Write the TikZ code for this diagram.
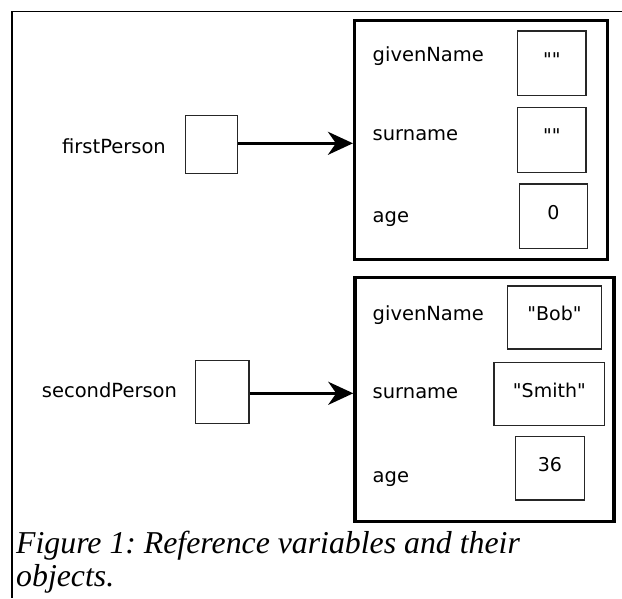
\documentclass[tikz,border=0pt]{standalone}
\usepackage{fontspec}
\setmainfont{DejaVu Sans}
\newfontfamily\captionfont{Liberation Serif}
\usetikzlibrary{arrows.meta}

% straight double quote, set as the font's own glyph
\newcommand\dq{\XeTeXglyph\XeTeXcharglyph"22\relax}

\tikzset{
  frameline/.style={line width=1.3pt, black},
  refbox/.style={draw=black!85, line width=1.3pt, inner sep=0pt, minimum width=#1},
  objbox/.style={draw=black, line width=3.5pt, inner sep=0pt},
  valbox/.style={draw=black!85, line width=1.3pt, inner sep=0pt,
                 text height=14pt, text depth=8pt, font=\fontsize{19}{22}\selectfont},
  varname/.style={anchor=base west, inner sep=0pt, font=\fontsize{19.5}{22}\selectfont},
  fieldname/.style={anchor=base west, inner sep=0pt, font=\fontsize{19.5}{22}\selectfont},
  ptr/.style={line width=3pt, -{Stealth[length=25pt, width=23pt, inset=8pt]}},
  captext/.style={anchor=base west, inner sep=0pt,
                  font=\captionfont\itshape\fontsize{31.8}{34}\selectfont\frenchspacing}
}

\begin{document}
\begin{tikzpicture}[x=1pt, y=-1pt]
  \useasboundingbox (0,0) rectangle (622,598);

  % frame edges
  \draw[frameline] (622,11.5) -- (12,11.5) -- (12,598);

  % ---- first object ----
  \node[objbox, minimum width=252.6pt, minimum height=238.6pt] (obj1) at (481,140) {};
  \node[fieldname] (o1given) at (372.5,61.7) {givenName};
  \node[fieldname] (o1sur)   at (372.5,140)  {surname};
  \node[fieldname] (o1age)   at (372.5,222.5) {age};
  \node[valbox, minimum width=68.3pt, minimum height=64.7pt] (v11) at (551.9,63.4) {\dq\dq};
  \node[valbox, minimum width=68.3pt, minimum height=65pt]   (v12) at (551.9,139.8) {\dq\dq};
  \node[valbox, minimum width=68.4pt, minimum height=64.7pt] (v13) at (553.5,216.4) {0};

  % ---- second object ----
  \node[objbox, minimum width=259pt, minimum height=244.4pt] (obj2) at (484.5,399.5) {};
  \node[fieldname] (o2given) at (372.5,320)   {givenName};
  \node[fieldname] (o2sur)   at (372.5,398.3) {surname};
  \node[fieldname] (o2age)   at (372.5,482.7) {age};
  \node[valbox, minimum width=94.4pt,  minimum height=63pt]   (v21) at (554.5,317.5) {\dq Bob\dq};
  \node[valbox, minimum width=110.7pt, minimum height=63.4pt] (v22) at (549.4,394)   {\dq Smith\dq};
  \node[valbox, minimum width=69.2pt,  minimum height=63.3pt] (v23) at (549.9,468.3) {36};

  % ---- reference variables ----
  \node[varname] (n1) at (62,153.3) {firstPerson};
  \node[refbox=51.6pt, minimum height=57.6pt] (p1) at (211.5,144.5) {};
  \node[varname] (n2) at (41.7,397.3) {secondPerson};
  \node[refbox=53.3pt, minimum height=62.6pt] (p2) at (222.3,392) {};

  % pointers
  \draw[ptr] ([yshift=1.2pt]p1.east) -- ([yshift=1.2pt]p1.east -| obj1.west);
  \draw[ptr] ([yshift=-1.3pt]p2.east) -- ([yshift=-1.3pt]p2.east -| obj2.west);

  % caption
  \node[captext] (cap1) at (16,553)   {Figure 1: Reference variables and their};
  \node[captext] (cap2) at (16,586.7) {objects.};
\end{tikzpicture}
\end{document}
